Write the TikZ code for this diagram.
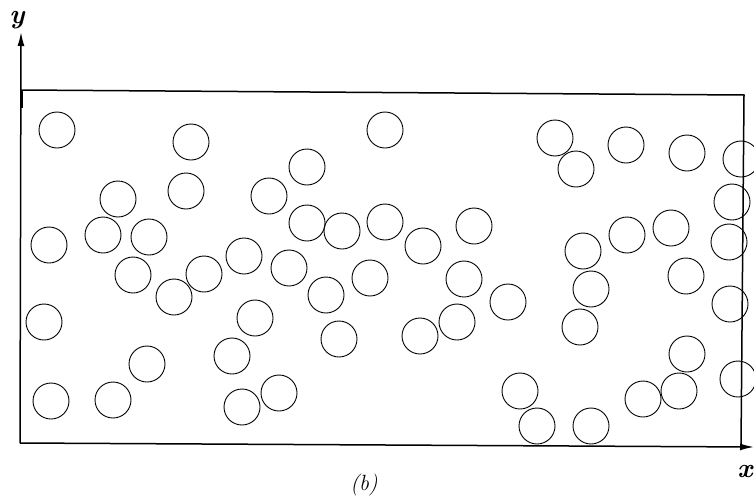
\documentclass[tikz,border=0pt]{standalone}
\usetikzlibrary{arrows.meta}

\begin{document}
\begin{tikzpicture}[
x=1pt, y=-1pt,
>={Latex[length=14pt,width=7pt]},
disc/.style={
draw,
circle,
line width=0.9pt,
minimum size=36pt,
inner sep=0pt
},
frame/.style={line width=1.5pt},
axis/.style={->, line width=1.5pt},
lab/.style={inner sep=0pt, font=\fontsize{27}{27}\selectfont\bfseries\itshape},
caplab/.style={inner sep=0pt, font=\fontsize{22}{22}\selectfont\itshape}
]
\useasboundingbox (0,0) rectangle (754,498);

% Box corners and axis ends
\coordinate (bl) at (20,443);
\coordinate (tl) at (21,90);
\coordinate (tr) at (744,95);
\coordinate (br) at (741,446);
\coordinate (yend) at (21,32);
\coordinate (xend) at (754,447);

% Box and axes
\draw[frame] (tl) -- (tr) -- (br);
\draw[axis] (bl) -- (yend);
\draw[axis] (bl) -- (xend);
\draw[line width=3pt] (tl) -- ++(0,18);

% Particles
\foreach \cx/\cy [count=\i] in {
57/130, 191/142, 385/130, 555/138, 576/169, 626/145, 687/153, 741/159,
118/199, 186/191, 269/196, 307/167, 49/245, 103/235, 149/237, 307/223,
342/231, 385/222, 423/246, 474/226, 583/251, 627/235, 671/228, 732/202,
729/242, 133/275, 204/274, 174/297, 244/256, 289/268, 326/295, 370/278,
464/279, 508/302, 591/289, 686/276, 730/304, 44/322, 255/318, 420/336,
457/322, 339/339, 580/327, 232/356, 147/364, 687/354, 51/401, 113/400,
242/407, 279/393, 520/391, 537/426, 591/426, 643/399, 679/391, 738/379}
\node[disc] (c\i) at (\cx,\cy) {};

% Labels
\node[lab] (ylab) at (17,20) {y};
\node[lab] (xlab) at (745,471) {x};
\node[caplab] (caption) at (364,485) {(b)};

\end{tikzpicture}
\end{document}
